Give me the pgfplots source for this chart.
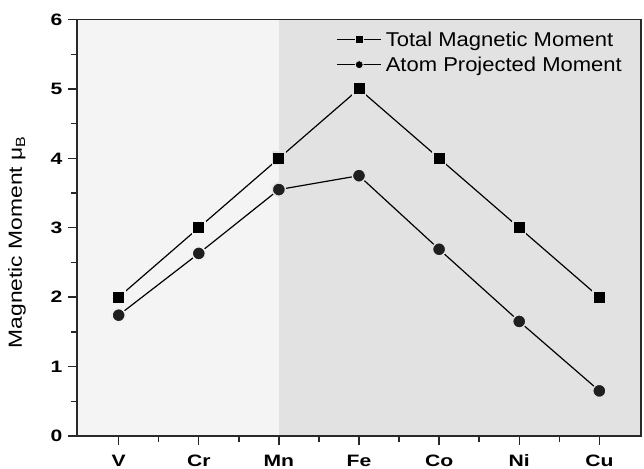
\documentclass[border=0pt]{standalone}
\usepackage{pgfplots}
\pgfplotsset{compat=1.18}
\usepackage{fontspec}
\setmainfont{Liberation Sans}
\newfontfamily\tickfont[FakeStretch=1.28]{Liberation Sans}
\newfontfamily\legfont[FakeStretch=1.1]{Liberation Sans}
\definecolor{bgL}{RGB}{244,244,244}
\definecolor{bgR}{RGB}{226,226,226}
\definecolor{axc}{RGB}{40,40,40}
\begin{document}
\begin{tikzpicture}
\begin{axis}[
  set layers,
  scale only axis,
  width=564pt, height=416.5pt,
  xmin=-0.52, xmax=6.52,
  ymin=0, ymax=6,
  xtick={0,...,6},
  xticklabels={V,Cr,Mn,Fe,Co,Ni,Cu},
  ytick={0,...,6},
  minor x tick num=1,
  minor y tick num=1,
  xtick pos=left, ytick pos=left,
  tick align=outside,
  major tick length=9pt,
  minor tick length=6pt,
  axis line style={axc, line width=1.4pt},
  every tick/.style={axc, line width=1.4pt},
  tick label style={font=\fontsize{16.5}{19}\tickfont\bfseries},
  xticklabel style={yshift=-6pt, text height=12pt, text depth=0pt},
  yticklabel style={xshift=-2pt},
  /pgf/number format/assume math mode=true,
  ylabel={Magnetic Moment μ\textsubscript{B}},
  ylabel style={font=\fontsize{19}{22}\selectfont, xscale=1.2, yshift=18pt, xshift=-12pt},
  axis background/.style={fill=bgL},
  legend style={at={(1,1)}, anchor=north east, xshift=-14pt, yshift=-9pt,
    draw=none, fill=none,
    font=\fontsize{20}{24}\legfont, row sep=5pt, inner sep=1pt,
    nodes={inner xsep=4pt}},
  legend cell align=left,
  legend image code/.code={%
    \draw[mark repeat=2, mark phase=2, #1, mark size=4pt, mark options={draw=bgR, line width=0.8pt}]
      plot coordinates {(0pt,0pt) (22pt,0pt) (44pt,0pt)};},
]
\begin{pgfonlayer}{axis background}
\fill[bgR] (axis cs:2,0) rectangle (axis cs:6.52,6);
\end{pgfonlayer}
\coordinate (bl) at (rel axis cs:0,0);
\coordinate (tr) at (rel axis cs:1,1);
\addplot[black, line width=1.2pt, mark=square*, mark size=6.2pt,
  mark options={solid, fill=black, draw=bgR, line width=1.4pt}]
  coordinates {(0,2) (1,3) (2,4) (3,5) (4,4) (5,3) (6,2)};
\addlegendentry{Total Magnetic Moment}
\addplot[black, line width=1.2pt, mark=*, mark size=6.6pt,
  mark options={solid, fill=black!88, draw=bgR, line width=1.4pt}]
  coordinates {(0,1.74) (1,2.63) (2,3.55) (3,3.75) (4,2.69) (5,1.65) (6,0.65)};
\addlegendentry{Atom Projected Moment}
\addplot[forget plot, only marks, mark=square*, mark size=6.2pt,
  mark options={solid, fill=black, draw=bgL, line width=1.4pt}]
  coordinates {(0,2) (1,3)};
\addplot[forget plot, only marks, mark=*, mark size=6.6pt,
  mark options={solid, fill=black!88, draw=bgL, line width=1.4pt}]
  coordinates {(0,1.74) (1,2.63)};
\end{axis}
\pgfresetboundingbox
\path ([xshift=-77pt,yshift=-33pt]bl) rectangle ([xshift=3pt,yshift=19.5pt]tr);
\end{tikzpicture}
\end{document}
